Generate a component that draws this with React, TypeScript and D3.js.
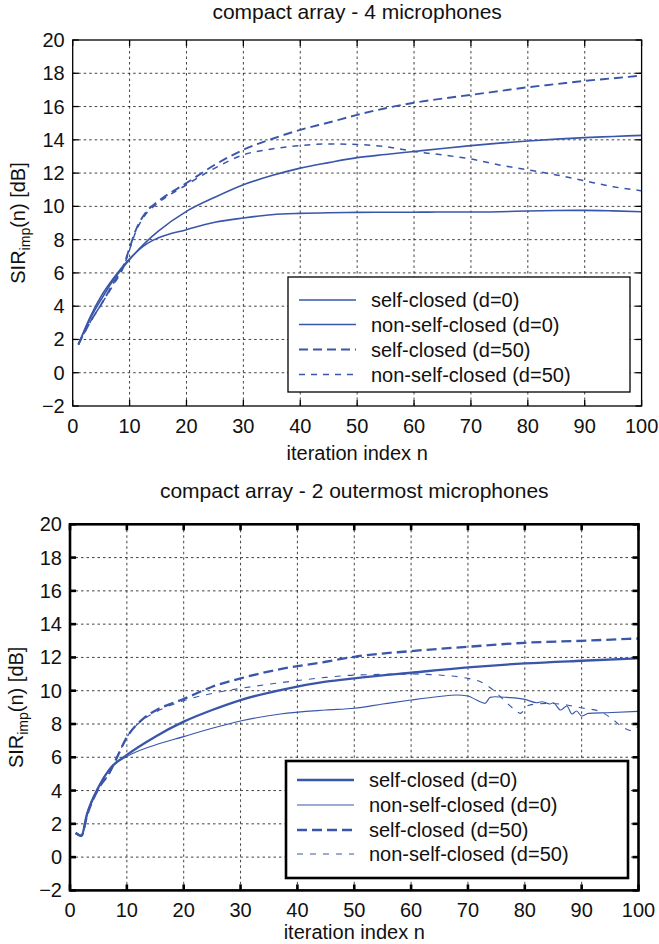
import React from 'react';
import * as d3 from 'd3';

// ---------- tick values ----------
const xTicks = [0, 10, 20, 30, 40, 50, 60, 70, 80, 90, 100];
const yTicks = [-2, 0, 2, 4, 6, 8, 10, 12, 14, 16, 18, 20];

// ---------- top panel: compact array - 4 microphones ----------
const topIter = [1, 3, 5, 7, 10, 13, 15, 20, 25, 30, 35, 40, 45, 50, 55, 60, 65, 70, 75, 80, 85, 90, 95, 100];
const topSelfD0 = [1.7, 3.2, 4.4, 5.5, 6.8, 7.9, 8.5, 9.7, 10.55, 11.3, 11.85, 12.3, 12.63, 12.93, 13.12, 13.3, 13.48, 13.65, 13.8, 13.93, 14.04, 14.13, 14.2, 14.27];
const topNonSelfD0 = [1.7, 3.3, 4.6, 5.6, 6.85, 7.75, 8.1, 8.6, 9.04, 9.3, 9.5, 9.58, 9.62, 9.64, 9.65, 9.65, 9.66, 9.66, 9.68, 9.72, 9.75, 9.76, 9.73, 9.68];
const topIterD50 = [1, 3, 5, 7, 9, 10, 11, 12, 13, 15, 20, 25, 30, 35, 40, 45, 50, 55, 60, 65, 70, 75, 80, 85, 90, 95, 100];
const topSelfD50 = [1.7, 3.0, 4.1, 5.3, 6.5, 7.5, 8.5, 9.2, 9.7, 10.3, 11.4, 12.5, 13.4, 14.05, 14.6, 15.04, 15.5, 15.9, 16.23, 16.48, 16.7, 16.93, 17.16, 17.35, 17.54, 17.7, 17.86];
const topNonSelfD50 = [1.7, 3.0, 4.1, 5.2, 6.4, 7.4, 8.4, 9.1, 9.6, 10.2, 11.3, 12.3, 13.1, 13.45, 13.66, 13.75, 13.72, 13.59, 13.3, 13.09, 12.85, 12.49, 12.19, 11.89, 11.53, 11.18, 10.94];

// ---------- bottom panel: compact array - 2 outermost microphones ----------
const botIterSelfD0 = [1, 2, 3, 5, 7, 10, 15, 20, 25, 30, 37, 45, 50, 60, 70, 80, 90, 100];
const botSelfD0 = [1.45, 1.28, 2.6, 4.2, 5.3, 6.14, 7.24, 8.14, 8.84, 9.44, 10.04, 10.54, 10.74, 11.08, 11.4, 11.64, 11.8, 11.94];
const botIterNonSelfD0 = [1, 2, 3, 5, 7, 10, 15, 20, 25, 30, 37, 45, 50, 55, 60, 65, 68, 70, 71.5, 73, 73.9, 74.8, 76.8, 80, 82.1, 83, 84.4, 85, 86.3, 87.4, 88.3, 89.1, 90, 91.2, 94.4, 100];
const botNonSelfD0 = [1.45, 1.28, 2.6, 4.2, 5.3, 6.04, 6.74, 7.24, 7.74, 8.18, 8.6, 8.84, 8.95, 9.2, 9.44, 9.65, 9.74, 9.68, 9.44, 9.24, 9.6, 9.64, 9.6, 9.48, 9.28, 9.34, 9.2, 9.28, 8.84, 9.08, 8.6, 8.78, 8.48, 8.64, 8.68, 8.76];
const botIterSelfD50 = [1, 2, 3, 5, 7, 8, 10, 13, 15, 20, 25, 30, 37, 45, 50, 60, 70, 80, 90, 100];
const botSelfD50 = [1.45, 1.28, 2.5, 4.1, 5.1, 5.8, 7.2, 8.35, 8.8, 9.5, 10.24, 10.74, 11.3, 11.74, 12.04, 12.38, 12.64, 12.88, 13.0, 13.14];
const botIterNonSelfD50 = [1, 2, 3, 5, 7, 8, 10, 13, 15, 20, 25, 30, 37, 45, 50, 60, 65, 70, 72.2, 74.8, 76.3, 78.3, 79.2, 80.5, 82.1, 84.4, 87.4, 89.8, 93.3, 95, 97.3, 98.8, 100];
const botNonSelfD50 = [1.45, 1.28, 2.5, 4.1, 5.1, 5.8, 7.2, 8.3, 8.7, 9.4, 9.84, 10.14, 10.48, 10.8, 10.94, 11.0, 10.94, 10.74, 10.54, 9.94, 9.44, 8.84, 8.64, 9.1, 9.2, 9.24, 9.14, 8.98, 8.74, 8.4, 7.8, 7.6, 7.9];

const legendLabels = ['self-closed (d=0)', 'non-self-closed (d=0)', 'self-closed (d=50)', 'non-self-closed (d=50)'];

const BLUE = '#3a56aa';
const FONT = '"Liberation Sans", Arial, Helvetica, sans-serif';

type Series = { xs: number[]; ys: number[]; dash?: string; width: number };

type PanelProps = {
  id: string;
  title: string;
  titleY: number;
  left: number; right: number; top: number; bottom: number;
  frameW: number;
  series: Series[];
  legend: { x0: number; x1: number; y0: number; y1: number; rows: number[] };
  xLabelY: number;
  yLabelX: number;
};

function Panel(p: PanelProps) {
  const x = d3.scaleLinear().domain([0, 100]).range([p.left, p.right]);
  const y = d3.scaleLinear().domain([-2, 20]).range([p.bottom, p.top]);
  const tickLen = 6;
  const cx = (p.left + p.right) / 2;
  const cy = (p.top + p.bottom) / 2;
  return (
    <g>
      <defs>
        <clipPath id={p.id + '-clip'}>
          <rect x={p.left} y={p.top} width={p.right - p.left} height={p.bottom - p.top} />
        </clipPath>
      </defs>
      <text x={cx} y={p.titleY} textAnchor="middle" fontSize={21} fontFamily={FONT} fill="#111">{p.title}</text>
      {/* grid */}
      <g stroke="#111" strokeWidth={0.8} strokeDasharray="2.5,3">
        {xTicks.filter(t => t > 0 && t < 100).map(t => (
          <line key={'gx' + t} x1={x(t)} x2={x(t)} y1={p.top} y2={p.bottom} />
        ))}
        {yTicks.filter(t => t > -2 && t < 20).map(t => (
          <line key={'gy' + t} x1={p.left} x2={p.right} y1={y(t)} y2={y(t)} />
        ))}
      </g>
      {/* series */}
      <g clipPath={`url(#${p.id}-clip)`} fill="none" stroke={BLUE} strokeLinejoin="round">
        {p.series.map((s, i) => {
          const pts = s.xs.map((v, k) => [v, s.ys[k]] as [number, number]);
          const line = d3.line<[number, number]>().x(d => x(d[0])).y(d => y(d[1])).curve(d3.curveMonotoneX);
          return <path key={i} d={line(pts) || ''} strokeWidth={s.width} strokeDasharray={s.dash} />;
        })}
      </g>
      {/* legend */}
      <rect x={p.legend.x0} y={p.legend.y0} width={p.legend.x1 - p.legend.x0} height={p.legend.y1 - p.legend.y0}
        fill="#fff" stroke="#000" strokeWidth={p.frameW} />
      {p.series.map((s, i) => (
        <g key={'lg' + i}>
          <line x1={p.legend.x0 + 11} x2={p.legend.x0 + 68} y1={p.legend.rows[i]} y2={p.legend.rows[i]}
            stroke={BLUE} strokeWidth={s.width} strokeDasharray={s.dash} />
          <text x={p.legend.x0 + 83} y={p.legend.rows[i] + 7} fontSize={20} fontFamily={FONT} fill="#111">{legendLabels[i]}</text>
        </g>
      ))}
      {/* ticks */}
      <g stroke="#000" strokeWidth={p.frameW}>
        {xTicks.map(t => (
          <g key={'tx' + t}>
            <line x1={x(t)} x2={x(t)} y1={p.bottom} y2={p.bottom - tickLen} />
            <line x1={x(t)} x2={x(t)} y1={p.top} y2={p.top + tickLen} />
          </g>
        ))}
        {yTicks.map(t => (
          <g key={'ty' + t}>
            <line x1={p.left} x2={p.left + tickLen} y1={y(t)} y2={y(t)} />
            <line x1={p.right} x2={p.right - tickLen} y1={y(t)} y2={y(t)} />
          </g>
        ))}
      </g>
      <rect x={p.left} y={p.top} width={p.right - p.left} height={p.bottom - p.top} fill="none" stroke="#000" strokeWidth={p.frameW} />
      {/* tick labels */}
      <g fontSize={20} fontFamily={FONT} fill="#111">
        {xTicks.map(t => (
          <text key={'lx' + t} x={x(t)} y={p.bottom + 27} textAnchor="middle">{t}</text>
        ))}
        {yTicks.map(t => (
          <text key={'ly' + t} x={p.left - 8} y={y(t) + 7} textAnchor="end">{t < 0 ? '\u2212' + Math.abs(t) : String(t)}</text>
        ))}
      </g>
      <text x={cx} y={p.xLabelY} textAnchor="middle" fontSize={20} fontFamily={FONT} fill="#111">iteration index n</text>
      <text transform={`translate(${p.yLabelX},${cy}) rotate(-90)`} textAnchor="middle" fontSize={20} fontFamily={FONT} fill="#111">
        SIR<tspan fontSize={14} dy={5}>imp</tspan><tspan dy={-5}>(n) [dB]</tspan>
      </text>
    </g>
  );
}

export default function App() {
  const topSeries: Series[] = [
    { xs: topIter, ys: topSelfD0, width: 1.6 },
    { xs: topIter, ys: topNonSelfD0, width: 1.6 },
    { xs: topIterD50, ys: topSelfD50, width: 1.9, dash: '9,5' },
    { xs: topIterD50, ys: topNonSelfD50, width: 1.5, dash: '6,6' },
  ];
  const botSeries: Series[] = [
    { xs: botIterSelfD0, ys: botSelfD0, width: 2.3 },
    { xs: botIterNonSelfD0, ys: botNonSelfD0, width: 1.1 },
    { xs: botIterSelfD50, ys: botSelfD50, width: 2.3, dash: '10,5' },
    { xs: botIterNonSelfD50, ys: botNonSelfD50, width: 1.1, dash: '6,7' },
  ];
  return (
    <svg width={659} height={944} style={{ position: 'absolute', left: 0, top: 0, background: '#fff' }}>
      <rect width={659} height={944} fill="#fff" />
      <Panel id="top" title="compact array - 4 microphones" titleY={19}
        left={72.7} right={641.6} top={40} bottom={406} frameW={1.3}
        series={topSeries}
        legend={{ x0: 288, x1: 630, y0: 277, y1: 392, rows: [300, 324.5, 349.5, 374.5] }}
        xLabelY={460} yLabelX={25} />
      <Panel id="bot" title="compact array - 2 outermost microphones" titleY={498}
        left={70} right={638.5} top={524.3} bottom={890.4} frameW={2.6}
        series={botSeries}
        legend={{ x0: 286, x1: 628, y0: 761, y1: 878, rows: [780, 805, 830, 854] }}
        xLabelY={939} yLabelX={23} />
    </svg>
  );
}
